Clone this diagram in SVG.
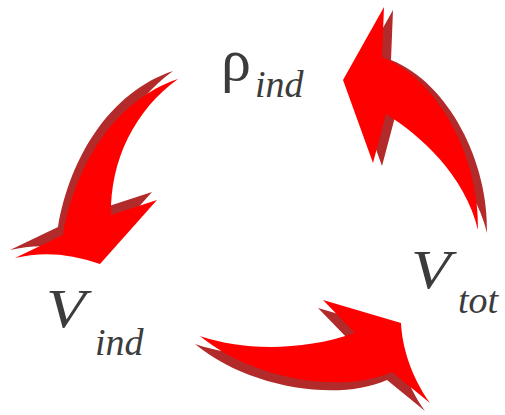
<svg xmlns="http://www.w3.org/2000/svg" width="505" height="415" viewBox="0 0 505 415">
<style>
.shadow{fill:#b22a2a}
.body{fill:#ff0000}
.lbl{font-family:"Liberation Serif",serif;fill:#3c3c3c}
.it{font-style:italic}
</style>
<rect width="505" height="415" fill="#ffffff"/>
<g id="connectors">
<g id="arrow-rho-to-vind">
<path class="shadow" transform="translate(-5,-8)" d="M178,79 C115,100 75,165 63,235 L15,258 Q55,248 100,264 L157,200 L111,215 C110,160 135,110 178,79 Z"/>
<path class="body" d="M178,79 C115,100 75,165 63,235 L15,258 Q55,248 100,264 L157,200 L111,215 C110,160 135,110 178,79 Z"/>
</g>
<g id="arrow-vtot-to-rho">
<path class="shadow" transform="translate(9,3)" d="M478,230 C480,160 440,80 382,57 L384,7 L343,80 L373,163 L386,114 C420,135 465,175 478,230 Z"/>
<path class="body" d="M478,230 C480,160 440,80 382,57 L384,7 L343,80 L373,163 L386,114 C420,135 465,175 478,230 Z"/>
</g>
<g id="arrow-vind-to-vtot">
<path class="shadow" transform="translate(-5,8)" d="M200,336 C240,350 300,352 355,333 L323,300 L401,323 C402,345 410,375 430,403 L392,372 C340,395 250,378 200,336 Z"/>
<path class="body" d="M200,336 C240,350 300,352 355,333 L323,300 L401,323 C402,345 410,375 430,403 L392,372 C340,395 250,378 200,336 Z"/>
</g>
</g>
<g id="node-rho">
<text class="lbl" x="221" y="80" font-size="60">ρ</text>
<text class="lbl it" x="255" y="97" font-size="38">ind</text>
</g>
<g id="node-vind">
<text class="lbl it" transform="translate(46,327) scale(1.2,1)" font-size="54">V</text>
<text class="lbl it" x="95" y="355" font-size="38">ind</text>
</g>
<g id="node-vtot">
<text class="lbl it" transform="translate(411,288) scale(1.2,1)" font-size="54">V</text>
<text class="lbl it" x="458" y="313" font-size="38">tot</text>
</g>
</svg>
